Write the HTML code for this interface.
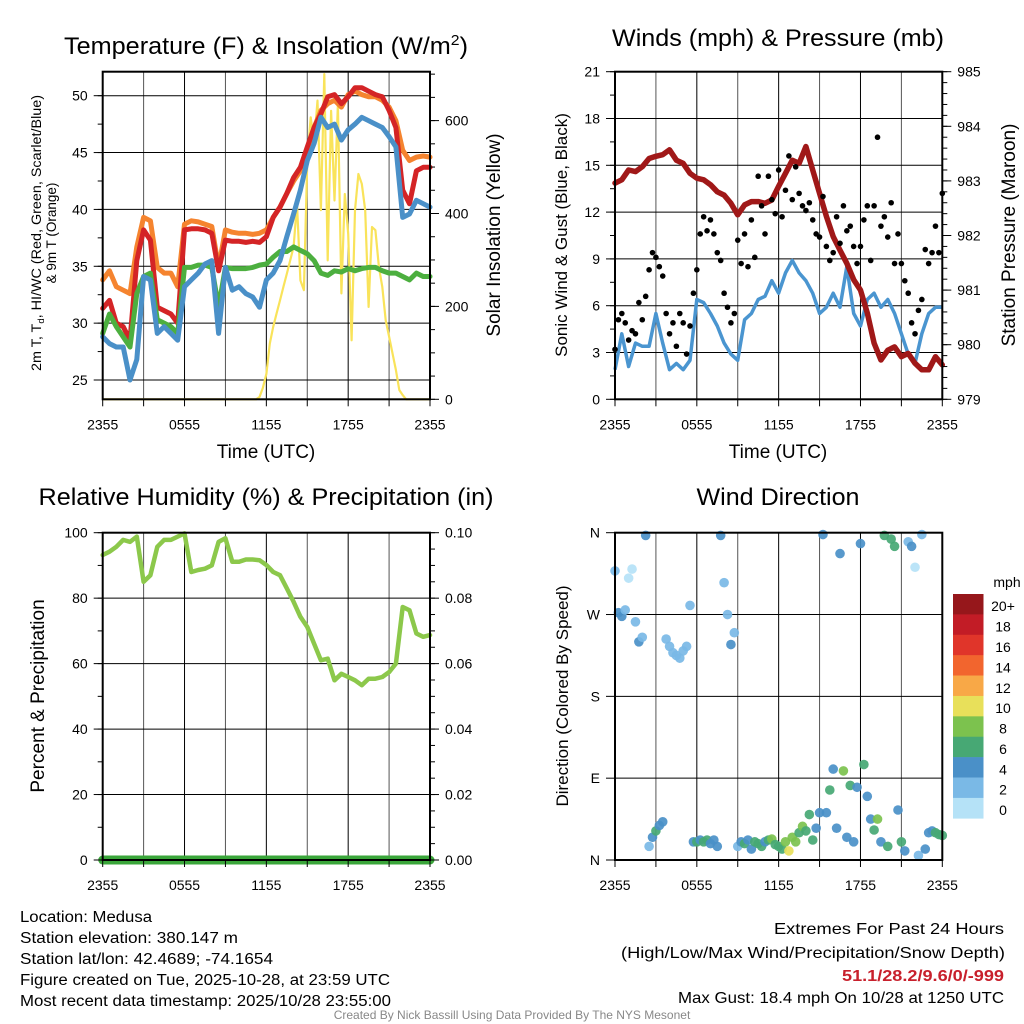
<!DOCTYPE html>
<html><head><meta charset="utf-8"><title>Mesonet Medusa</title>
<style>
html,body{margin:0;padding:0;background:#fff;}
svg{display:block;font-family:"Liberation Sans",sans-serif;}
</style></head>
<body>
<svg id="chart" xmlns="http://www.w3.org/2000/svg" width="1024" height="1024" viewBox="0 0 1024 1024">
<rect x="0" y="0" width="1024" height="1024" fill="#fff"/>
<g id="layer"></g>
<!-- titles -->
<text x="266" y="54" font-size="24" text-anchor="middle" textLength="404" lengthAdjust="spacingAndGlyphs">Temperature (F) &amp; Insolation (W/m<tspan font-size="15" dy="-9">2</tspan><tspan dy="9">)</tspan></text>
<text x="778" y="46" font-size="24" text-anchor="middle" textLength="332" lengthAdjust="spacingAndGlyphs">Winds (mph) &amp; Pressure (mb)</text>
<text x="266" y="505" font-size="24" text-anchor="middle" textLength="455" lengthAdjust="spacingAndGlyphs">Relative Humidity (%) &amp; Precipitation (in)</text>
<text x="778" y="505" font-size="24" text-anchor="middle" textLength="163" lengthAdjust="spacingAndGlyphs">Wind Direction</text>
<!-- axis titles -->
<text x="266" y="458" font-size="19" text-anchor="middle">Time (UTC)</text>
<text x="778" y="458" font-size="19" text-anchor="middle">Time (UTC)</text>
<text transform="translate(41,233) rotate(-90)" font-size="13.5" text-anchor="middle" textLength="276" lengthAdjust="spacingAndGlyphs">2m T, T<tspan font-size="9" dy="3">d</tspan><tspan dy="-3">, HI/WC (Red, Green, Scarlet/Blue)</tspan></text>
<text transform="translate(56,233) rotate(-90)" font-size="13.5" text-anchor="middle">&amp; 9m T (Orange)</text>
<text transform="translate(500,235) rotate(-90)" font-size="19" text-anchor="middle">Solar Insolation (Yellow)</text>
<text transform="translate(567,235) rotate(-90)" font-size="17" text-anchor="middle">Sonic Wind &amp; Gust (Blue, Black)</text>
<text transform="translate(1015,235) rotate(-90)" font-size="19" text-anchor="middle">Station Pressure (Maroon)</text>
<text transform="translate(44,696) rotate(-90)" font-size="19" text-anchor="middle">Percent &amp; Precipitation</text>
<text transform="translate(568,696) rotate(-90)" font-size="17" text-anchor="middle">Direction (Colored By Speed)</text>
<!-- footer -->
<g font-size="15.5">
<text x="20" y="922" textLength="132" lengthAdjust="spacingAndGlyphs">Location: Medusa</text>
<text x="20" y="943" textLength="218" lengthAdjust="spacingAndGlyphs">Station elevation: 380.147 m</text>
<text x="20" y="964" textLength="253" lengthAdjust="spacingAndGlyphs">Station lat/lon: 42.4689; -74.1654</text>
<text x="20" y="985" textLength="370" lengthAdjust="spacingAndGlyphs">Figure created on Tue, 2025-10-28, at 23:59 UTC</text>
<text x="20" y="1006" textLength="371" lengthAdjust="spacingAndGlyphs">Most recent data timestamp: 2025/10/28 23:55:00</text>
</g>
<g font-size="16" text-anchor="end">
<text x="1004" y="934" textLength="230" lengthAdjust="spacingAndGlyphs">Extremes For Past 24 Hours</text>
<text x="1005" y="958" textLength="384" lengthAdjust="spacingAndGlyphs">(High/Low/Max Wind/Precipitation/Snow Depth)</text>
<text x="1004" y="981" font-weight="bold" fill="#c8202c" textLength="162" lengthAdjust="spacingAndGlyphs">51.1/28.2/9.6/0/-999</text>
<text x="1004" y="1003" textLength="326" lengthAdjust="spacingAndGlyphs">Max Gust: 18.4 mph On 10/28 at 1250 UTC</text>
</g>
<text x="512" y="1019" font-size="12" fill="#888" text-anchor="middle">Created By Nick Bassill Using Data Provided By The NYS Mesonet</text>
</svg>
<script>
// ---- data (30-min resolution, hours 0..24) ----
const timeLabels = ["2355","0555","1155","1755","2355"];
const temp2m = [31.3,32.0,30.0,29.7,28.5,35.5,38.2,37.3,31.4,31.1,30.8,30.0,38.2,38.3,38.3,38.2,37.9,34.6,37.3,37.2,37.2,37.1,37.2,37.1,37.6,39.3,40.2,41.4,42.8,43.7,45.5,47.2,48.4,49.9,50.1,49.3,49.9,50.7,50.7,50.4,50.1,49.9,48.7,47.2,41.7,40.5,43.4,43.7,43.7];
const temp9m = [33.8,34.6,33.2,32.9,32.6,36.7,39.3,39.0,34.9,34.4,34.4,33.2,38.7,39.0,38.9,38.7,38.5,34.9,38.2,38.0,37.9,37.9,37.8,37.9,38.2,39.3,40.2,41.4,42.5,43.4,45.2,47.2,48.7,49.3,49.6,49.0,50.1,50.4,50.1,49.9,49.9,49.6,49.0,47.8,45.2,44.3,44.6,44.7,44.6];
const windChill = [28.8,28.2,27.9,27.9,25.0,26.8,34.1,33.8,29.1,29.7,29.1,28.5,33.2,33.8,34.4,35.2,35.5,29.1,34.9,32.9,33.2,32.6,32.3,31.4,33.8,34.4,35.5,37.6,39.6,41.7,44.3,45.8,48.1,47.2,47.5,46.1,47.0,47.5,48.1,47.8,47.5,47.2,46.4,45.5,39.3,39.6,40.8,40.5,40.2];
const dewPoint = [29.1,30.8,29.7,28.8,27.9,32.6,34.1,34.4,30.3,30.0,29.7,29.1,34.9,34.9,35.1,35.1,34.9,31.4,34.9,34.8,34.8,34.8,34.9,35.1,35.2,35.8,36.3,36.3,36.7,36.4,36.1,35.5,34.4,34.2,34.6,34.5,34.8,34.6,34.8,34.9,34.9,34.6,34.4,34.4,34.1,33.8,34.4,34.1,34.1];
// solar: 15-min resolution
const solar = [0,0,0,0,0,0,0,0,0,0,0,0,0,0,0,0,0,0,0,0,0,0,0,0,0,0,0,0,0,0,0,0,0,0,0,0,0,0,0,0,0,0,0,0,0,0,5,25,55,120,156,185,213,242,270,299,328,421,256,235,514,607,550,643,407,700,299,621,428,636,228,442,356,127,407,485,464,407,199,371,364,285,242,170,135,99,63,20,9,0,0,0,0,0,0,0,0];
const windSpeed = [1.9,4.2,2.1,3.6,3.4,3.4,5.5,3.6,1.9,2.3,1.9,2.5,6.4,6.2,5.5,4.7,3.6,2.9,2.5,5.1,5.5,6.4,6.6,7.6,6.8,8.1,8.9,8.1,7.6,6.8,5.5,5.9,6.8,5.9,8.5,5.5,4.7,6.4,6.8,5.9,6.4,5.5,4.2,2.9,2.3,4.2,5.5,5.9,5.9];
const pressure = [982.96,983.02,983.2,983.17,983.26,983.41,983.45,983.48,983.57,983.38,983.32,983.14,983.05,983.02,982.93,982.8,982.74,982.59,982.38,982.56,982.62,982.62,982.59,982.65,982.9,983.14,983.38,983.32,983.63,983.2,982.77,982.35,981.98,981.73,981.49,981.19,981.0,980.58,980.03,979.72,979.9,979.96,979.78,979.84,979.66,979.54,979.54,979.78,979.63];
// gusts: 15-min resolution
const gusts = [3.2,5.1,5.5,4.9,3.8,4.4,4.2,6.2,5.1,6.6,8.3,9.4,9.1,8.5,7.9,5.5,4.2,4.9,3.4,5.5,4.9,2.9,4.7,6.8,8.3,10.6,11.7,10.8,11.5,10.6,9.4,8.9,6.8,5.9,4.9,5.5,10.2,8.7,10.6,8.5,11.5,9.1,14.3,12.4,10.6,14.3,12.8,11.9,14.7,11.7,13.4,15.6,12.8,14.9,13.2,12.4,12.1,12.6,11.5,10.6,10.4,13.0,9.8,8.9,9.4,11.7,10.0,12.4,10.8,11.1,9.8,8.7,9.8,11.5,12.4,8.9,12.4,16.8,11.1,11.7,10.4,12.6,8.7,10.6,8.7,7.6,6.8,4.9,4.2,5.7,6.4,9.6,8.7,9.4,11.1,9.4,13.2];
const relHum = [93.2,94.2,95.7,97.8,97.2,98.8,85,87,95.7,97.8,97.8,98.8,99.8,88,88.6,89,90,97.2,98.3,91.1,91.1,91.8,91.8,91.6,90.1,88,87,83,78.9,74.3,71.2,66.1,61,61.5,54.9,56.9,55.9,54.9,53.4,55.4,55.4,55.9,57.4,60,77.3,76.3,69.2,68.2,68.7];
const precip = [0,0,0,0,0,0,0,0,0,0,0,0,0,0,0,0,0,0,0,0,0,0,0,0,0];
// wind direction: 15-min resolution (degrees) and speed (mph)
const windDir = [318,272,268,275,310,320,262,240,245,357,15,25,32,38,42,243,235,228,225,222,230,235,280,20,20,22,20,22,18,22,15,357,305,270,237,250,15,20,18,22,12,20,18,15,20,22,23,17,15,12,20,10,25,20,30,37,32,50,22,35,52,358,52,77,100,35,337,98,25,82,20,80,348,105,70,45,33,45,20,357,15,353,345,55,20,10,350,345,322,5,358,12,30,32,30,28,27];
const dirSpeed = [3,4.5,4.5,3,1,1,3,4.5,3,4.5,3,4.5,6.5,4.5,4.5,3,3,3,3,3,3,3,3,4.5,6.5,4.5,6.5,6.5,4.5,4.5,4.5,4.5,3,3,4.5,3,3,4.5,6.5,4.5,4.5,6.5,6.5,6.5,4.5,6.5,8.5,6.5,6.5,6.5,8.5,10.5,8.5,8.5,6.5,8.5,6.5,6.5,6.5,4.5,4.5,4.5,4.5,6.5,4.5,4.5,4.5,8.5,4.5,6.5,4.5,4.5,4.5,6.5,4.5,4.5,6.5,8.5,4.5,6.5,6.5,6.5,6.5,4.5,6.5,4.5,3,4.5,1,3,3,4.5,4.5,4.5,6.5,6.5,6.5];
const colorLabels = ["20+","18","16","14","12","10","8","6","4","2","0"];
const colorBins = ["#96171b","#c21c26","#e0352a","#f2652e","#f8a847","#e8e05a","#7cc24e","#47a874","#4a90c8","#7ab9e6","#b5e2f7"];

// ---- helpers ----
const NS = "http://www.w3.org/2000/svg";
const layer = document.getElementById("layer");
function mk(tag, attrs, parent) {
  const el = document.createElementNS(NS, tag);
  for (const k in attrs) el.setAttribute(k, attrs[k]);
  (parent || layer).appendChild(el);
  return el;
}
function linScale(d0, d1, r0, r1) { return v => r0 + (v - d0) / (d1 - d0) * (r1 - r0); }

const P1 = {l:102.7, r:430, t:71.7, b:399.3};
const P2 = {l:615, r:942.3, t:71.7, b:399.3};
const P3 = {l:102.7, r:430, t:532.7, b:860};
const P4 = {l:615, r:942.3, t:532.7, b:860};

function grid(P, hVals, yFn, name) {
  const g = mk("g", {});
  
  
  for (let h = 0; h <= 24; h += 3) {
    const x = linScale(0, 24, P.l, P.r)(h);
    const ln = mk("line", {x1:x, x2:x, y1:P.t, y2:P.b, stroke:(h % 6 === 0 ? "#000" : "#555"), "stroke-width":1}, g);
    
    
  }
  hVals.forEach(v => {
    const y = yFn(v);
    const ln = mk("line", {x1:P.l, x2:P.r, y1:y, y2:y, stroke:"#000", "stroke-width":1}, g);
    
    
  });
}
function xAxis(P, name) {
  const xs = linScale(0, 24, P.l, P.r);
  const g = mk("g", {});
  
  
  for (let h = 0; h <= 24; h += 3) {
    const t = mk("line", {x1:xs(h), x2:xs(h), y1:P.b, y2:P.b + 7, stroke:"#000", "stroke-width":1}, g);
    
    
  }
  timeLabels.forEach((lab, i) => {
    const t = mk("text", {x:xs(i * 6), y:P.b + 30, "font-size":14, "text-anchor":"middle"}, g);
    t.textContent = lab;
    
    
  });
}
function yAxis(P, side, yFn, majors, labels, minors, name) {
  const x = side === "left" ? P.l : P.r;
  const dir = side === "left" ? -1 : 1;
  const g = mk("g", {});
  
  
  minors.forEach(v => {
    const y = yFn(v);
    if (y < P.t - 0.5 || y > P.b + 0.5) return;
    const t = mk("line", {x1:x, x2:x + dir * 5, y1:y, y2:y, stroke:"#000", "stroke-width":1}, g);
    
    
  });
  majors.forEach((v, i) => {
    const t = mk("line", {x1:x, x2:x + dir * 9, y1:yFn(v), y2:yFn(v), stroke:"#000", "stroke-width":1}, g);
    
    
    const tx = mk("text", {x:x + dir * 15, y:yFn(v) + 5, "font-size":14, "text-anchor":(side === "left" ? "end" : "start")}, g);
    tx.textContent = labels[i];
    
    
  });
}
function range(a, b, s) { const o = []; for (let v = a; v <= b + 1e-9; v += s) o.push(+v.toFixed(4)); return o; }
function linePath(arr, xs, ys, step) {
  return arr.map((v, i) => (i ? "L" : "M") + xs(i * step).toFixed(1) + "," + ys(v).toFixed(1)).join("");
}
function frame(P, name) {
  const f = mk("rect", {x:P.l, y:P.t, width:P.r - P.l, height:P.b - P.t, fill:"none", stroke:"#000", "stroke-width":2});
  
  
}

// ---- Panel 1: temperature ----
{
  const xs = linScale(0, 24, P1.l, P1.r);
  const yT = linScale(25, 50, 380, 95.7);
  const yS = linScale(0, 600, P1.b, 120.6);
  grid(P1, [25,30,35,40,45,50], yT, 'temperature');
  const ys = mk("path", {d:linePath(solar, xs, yS, 0.25), fill:"none", stroke:"#f9e35a", "stroke-width":2.2, "stroke-linejoin":"round"});
  
  
  const series = [[temp9m, "#f5842f", 'temp-9m-line'], [temp2m, "#d42426", 'temp-2m-line'], [dewPoint, "#4caf3f", 'dewpoint-line'], [windChill, "#4a90c8", 'windchill-line']];
  series.forEach(s => {
    const p = mk("path", {d:linePath(s[0], xs, yT, 0.5), fill:"none", stroke:s[1], "stroke-width":5, "stroke-linejoin":"round", "stroke-linecap":"round"});
    
    
  });
  yAxis(P1, "left", yT, [25,30,35,40,45,50], ["25","30","35","40","45","50"], range(25, 52.5, 2.5), 'temperature-y-axis');
  yAxis(P1, "right", yS, [0,200,400,600], ["0","200","400","600"], range(0, 700, 50), 'solar-y-axis');
  xAxis(P1, 'temperature');
  frame(P1, 'temperature');
}
// ---- Panel 2: winds ----
{
  const xs = linScale(0, 24, P2.l, P2.r);
  const yW = linScale(0, 21, P2.b, P2.t);
  const yP = linScale(979, 985, P2.b, P2.t);
  grid(P2, [3,6,9,12,15,18], yW, 'winds');
  const w = mk("path", {d:linePath(windSpeed, xs, yW, 0.5), fill:"none", stroke:"#4a95d0", "stroke-width":3.5, "stroke-linejoin":"round"});
  
  
  const pr = mk("path", {d:linePath(pressure, xs, yP, 0.5), fill:"none", stroke:"#a01818", "stroke-width":5.5, "stroke-linejoin":"round", "stroke-linecap":"round"});
  
  
  const gg = mk("g", {});
  
  
  gusts.forEach((v, i) => {
    const c = mk("circle", {cx:xs(i * 0.25), cy:yW(v), r:2.8, fill:"#000"}, gg);
    
    
  });
  yAxis(P2, "left", yW, [0,3,6,9,12,15,18,21], ["0","3","6","9","12","15","18","21"], range(0, 21, 1.5), 'wind-y-axis');
  yAxis(P2, "right", yP, [979,980,981,982,983,984,985], ["979","980","981","982","983","984","985"], range(979, 985, 0.2), 'pressure-y-axis');
  xAxis(P2, 'winds');
  frame(P2, 'winds');
}
// ---- Panel 3: humidity ----
{
  const xs = linScale(0, 24, P3.l, P3.r);
  const yR = linScale(0, 100, P3.b, P3.t);
  const yPr = linScale(0, 0.1, P3.b, P3.t);
  grid(P3, [0,20,40,60,80,100], yR, 'humidity');
  const r = mk("path", {d:linePath(relHum, xs, yR, 0.5), fill:"none", stroke:"#8cc84b", "stroke-width":4.5, "stroke-linejoin":"round", "stroke-linecap":"round"});
  
  
  const p = mk("path", {d:linePath(precip, xs, yPr, 1), fill:"none", stroke:"#3aa63a", "stroke-width":9, "stroke-linecap":"round"});
  
  
  yAxis(P3, "left", yR, [0,20,40,60,80,100], ["0","20","40","60","80","100"], range(0, 100, 10), 'rh-y-axis');
  yAxis(P3, "right", yPr, [0,0.02,0.04,0.06,0.08,0.1], ["0.00","0.02","0.04","0.06","0.08","0.10"], range(0, 0.1, 0.005), 'precip-y-axis');
  xAxis(P3, 'humidity');
  frame(P3, 'humidity');
}
// ---- Panel 4: wind direction ----
{
  const xs = linScale(0, 24, P4.l, P4.r);
  const yD = linScale(0, 360, P4.b, P4.t);
  grid(P4, [90,180,270], yD, 'direction');
  const g = mk("g", {});
  
  
  windDir.forEach((d, i) => {
    const bin = Math.min(10, Math.floor(dirSpeed[i] / 2));
    const c = mk("circle", {cx:xs(i * 0.25), cy:yD(d), r:4.8, fill:colorBins[10 - bin], "fill-opacity":0.92}, g);
    
    
  });
  yAxis(P4, "left", yD, [0,90,180,270,360], ["N","E","S","W","N"], [], 'direction-y-axis');
  xAxis(P4, 'direction');
  frame(P4, 'direction');
  // colorbar
  const cb = mk("g", {});
  
  
  const bh = (818.3 - 594) / colorBins.length;
  colorBins.forEach((col, i) => {
    const rct = mk("rect", {x:953, y:594 + i * bh, width:30.5, height:bh + 0.3, fill:col}, cb);
    
    
    const t = mk("text", {x:1003, y:594 + i * bh + bh / 2 + 5 + 2, "font-size":14, "text-anchor":"middle"}, cb);
    t.textContent = colorLabels[i];
    
    
  });
  const u = mk("text", {x:1007, y:587, "font-size":14, "text-anchor":"middle"}, cb);
  u.textContent = "mph";
  
  
}
</script>
</body></html>
